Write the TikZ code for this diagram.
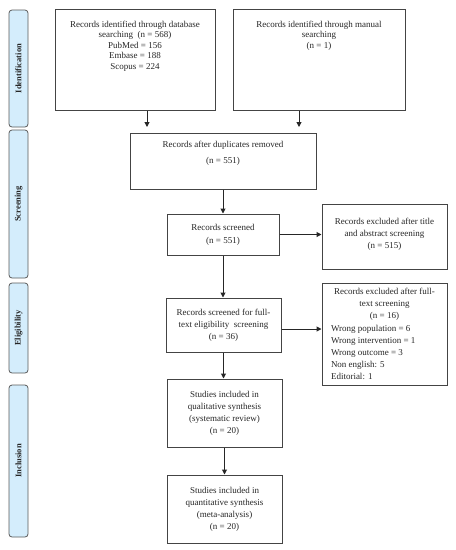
\documentclass[tikz,border=0pt]{standalone}
\usepackage{fontspec}
\setmainfont{Liberation Serif}
\usetikzlibrary{arrows.meta}
\definecolor{barfill}{HTML}{D4EDFC}
\definecolor{barline}{HTML}{5A5A5A}
\definecolor{boxline}{HTML}{444444}
\definecolor{txt}{HTML}{262626}
\begin{document}
\begin{tikzpicture}[x=1pt,y=-1pt,
  box/.style={draw=boxline, line width=1pt, inner sep=0pt, align=center,
    font=\fontsize{9}{12}\selectfont, text=txt},
  bar/.style={draw=barline, fill=barfill, rounded corners=3pt, line width=0.8pt,
    rotate=90, minimum height=19pt, inner sep=0pt,
    font=\bfseries\fontsize{8.5}{9}\selectfont, text=txt},
  arr/.style={line width=1pt, draw=txt, -{Triangle[length=5pt,width=5pt]}}]
\useasboundingbox (0,0) rectangle (456,550);
% phase bars
\node[bar, minimum width=117pt] (b1) at (18.5,68.5) {Identification};
\node[bar, minimum width=148pt] (b2) at (18.5,204) {Screening};
\node[bar, minimum width=90pt] (b3) at (18.5,328) {Eligibility};
\node[bar, minimum width=152pt] (b4) at (18.5,461) {Inclusion};
% boxes
\node[box, minimum width=160pt, minimum height=101pt] (n1) at (135,59.5)
  {\parbox[c][77pt][t]{158pt}{\centering\fontsize{9}{10.5}\selectfont
   Records identified through database\\searching\ \ (n = 568)\\PubMed = 156\\Embase = 188\\Scopus = 224}};
\node[box, minimum width=172pt, minimum height=101pt] (n2) at (319,59.5)
  {\parbox[c][77pt][t]{170pt}{\centering\fontsize{9}{10.5}\selectfont
   Records identified through manual\\searching\\(n = 1)}};
\node[box, minimum width=186pt, minimum height=56pt] (n3) at (223,161)
  {\parbox[c][40pt][t]{184pt}{\centering Records after duplicates removed\\[4pt](n = 551)}};
\node[box, minimum width=112pt, minimum height=41pt] (n4) at (223,234.5)
  {Records screened\\[1pt](n = 551)};
\node[box, minimum width=125pt, minimum height=65pt] (n5) at (384.5,236.5)
  {Records excluded after title\\and abstract screening\\(n = 515)\\[-5pt]\mbox{}};
\node[box, minimum width=115pt, minimum height=54pt] (n6) at (223.5,325)
  {Records screened for full-\\text eligibility\ \ screening\\(n = 36)};
\node[box, minimum width=125pt, minimum height=102pt] (n7) at (384.5,334)
  {\parbox{107pt}{\fontsize{9}{12.2}\selectfont
   {\centering Records excluded after full-\\text screening\\(n = 16)\par}
   \raggedright Wrong population = 6\\Wrong intervention = 1\\Wrong outcome = 3\\Non english: 5\\Editorial: 1}};
\node[box, minimum width=115pt, minimum height=68pt] (n8) at (224.5,413)
  {Studies included in\\qualitative synthesis\\(systematic review)\\(n = 20)};
\node[box, minimum width=115pt, minimum height=68pt] (n9) at (224.5,509)
  {Studies included in\\quantitative synthesis\\(meta-analysis)\\(n = 20)};
% connectors
\coordinate (e1) at (147,127);
\coordinate (e2) at (299,127);
\draw[arr] (n1.south -| e1) -- (e1);
\draw[arr] (n2.south -| e2) -- (e2);
\draw[arr] (n3.south) -- (n3.south |- n4.north);
\draw[arr] (n4.east) -- (n4.east -| n5.west);
\draw[arr] (n4.south) -- (n4.south |- n6.north);
\draw[arr] ([yshift=-4pt]n6.east) -- ([yshift=-4pt]n6.east -| n7.west);
\draw[arr] (n6.south) -- (n6.south |- n8.north);
\draw[arr] (n8.south) -- (n8.south |- n9.north);
\end{tikzpicture}
\end{document}
